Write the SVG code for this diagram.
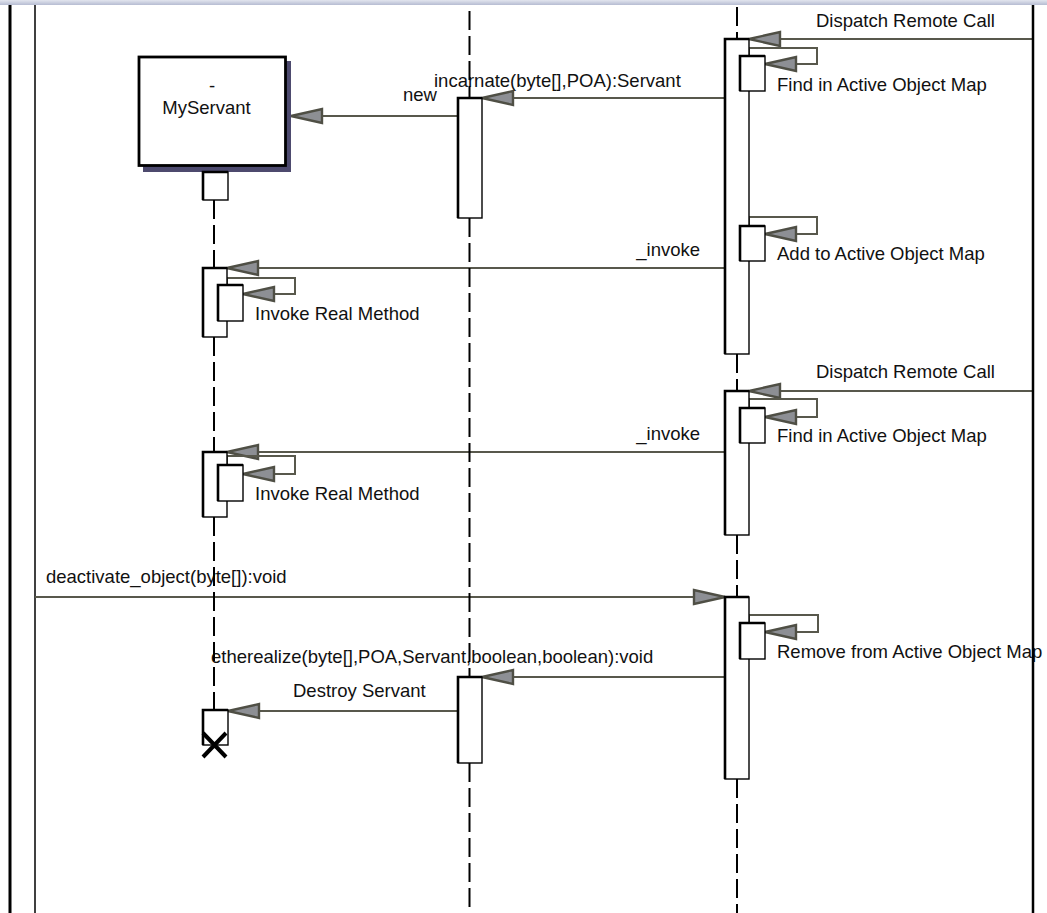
<svg xmlns="http://www.w3.org/2000/svg" xmlns:xlink="http://www.w3.org/1999/xlink" width="1047" height="913" viewBox="0 0 1047 913">
<style>
  text { font-family: "Liberation Sans", Arial, sans-serif; font-size: 18.5px; fill: #111; }
  .frameThick { stroke: #000; stroke-width: 3; }
  .frameThin { stroke: #000; stroke-width: 1.5; }
  .life { stroke: #000; stroke-width: 2; stroke-dasharray: 19 6; fill: none; }
  .act { fill: #fff; stroke: #000; stroke-width: 1.4; }
  .actE { fill: none; stroke: #000; stroke-width: 2.6; }
  .msg { fill: none; stroke: #58584c; stroke-width: 2; }
  .ah { fill: #8d8f94; stroke: #4f4f45; stroke-width: 2.4; stroke-linejoin: miter; }
  .box { fill: #fff; stroke: #000; stroke-width: 2.8; }
  .shadow { fill: #4d4a6e; }
  .cross { stroke: #000; stroke-width: 4; }
</style>
<defs>
  <linearGradient id="strip" x1="0" y1="0" x2="0" y2="1">
    <stop offset="0" stop-color="#e2e5ee"/>
    <stop offset="1" stop-color="#b6bcd2"/>
  </linearGradient>
  <path id="ahL" class="ah" d="M0,0 L31,-7 L31,7 Z"/>
  <path id="ahR" class="ah" d="M0,0 L-31,-7 L-31,7 Z"/>
</defs>
<rect x="0" y="0" width="1047" height="913" fill="#fff"/>
<rect x="0" y="0" width="1047" height="5" fill="url(#strip)"/>

<g id="frame">
  <line class="frameThick" x1="10" y1="5" x2="10" y2="913"/>
  <line class="frameThin" x1="35" y1="5" x2="35" y2="913"/>
</g>

<g id="connectors">
  <line class="msg" x1="1033" y1="39" x2="780" y2="39"/>
  <use xlink:href="#ahL" x="749" y="39"/>
  <text x="816" y="27">Dispatch Remote Call</text>

  <path class="msg" d="M749,56 V48 H817 V64 H795"/>
  <use xlink:href="#ahL" x="765" y="64"/>
  <text x="777" y="91">Find in Active Object Map</text>

  <line class="msg" x1="725" y1="98" x2="513" y2="98"/>
  <use xlink:href="#ahL" x="482" y="98"/>
  <text x="434" y="87">incarnate(byte[],POA):Servant</text>

  <line class="msg" x1="458" y1="116" x2="322" y2="116"/>
  <use xlink:href="#ahL" x="291" y="116"/>
  <text x="403" y="101">new</text>

  <path class="msg" d="M749,226 V217 H817 V234 H795"/>
  <use xlink:href="#ahL" x="765" y="234"/>
  <text x="777" y="260">Add to Active Object Map</text>

  <line class="msg" x1="725" y1="268" x2="258" y2="268"/>
  <use xlink:href="#ahL" x="227" y="268"/>
  <text x="700" y="256" text-anchor="end">_invoke</text>

  <path class="msg" d="M227,285 V278 H295 V294 H273"/>
  <use xlink:href="#ahL" x="243" y="294"/>
  <text x="255" y="320">Invoke Real Method</text>

  <line class="msg" x1="1033" y1="391" x2="780" y2="391"/>
  <use xlink:href="#ahL" x="749" y="391"/>
  <text x="816" y="378">Dispatch Remote Call</text>

  <path class="msg" d="M749,408 V399 H817 V417 H795"/>
  <use xlink:href="#ahL" x="765" y="417"/>
  <text x="777" y="442">Find in Active Object Map</text>

  <line class="msg" x1="725" y1="452" x2="258" y2="452"/>
  <use xlink:href="#ahL" x="227" y="452"/>
  <text x="700" y="440" text-anchor="end">_invoke</text>

  <path class="msg" d="M227,465 V456 H295 V474 H273"/>
  <use xlink:href="#ahL" x="243" y="474"/>
  <text x="255" y="500">Invoke Real Method</text>

  <line class="msg" x1="35" y1="597" x2="694" y2="597"/>
  <use xlink:href="#ahR" x="725" y="597"/>
  <text x="46" y="583">deactivate_object(byte[]):void</text>

  <path class="msg" d="M749,623 V615 H818 V632 H795"/>
  <use xlink:href="#ahL" x="765" y="632"/>
  <text x="777" y="658">Remove from Active Object Map</text>

  <line class="msg" x1="725" y1="677" x2="513" y2="677"/>
  <use xlink:href="#ahL" x="482" y="677"/>
  <text x="211" y="663">etherealize(byte[],POA,Servant,boolean,boolean):void</text>

  <line class="msg" x1="458" y1="711" x2="259" y2="711"/>
  <use xlink:href="#ahL" x="228" y="711"/>
  <text x="293" y="697">Destroy Servant</text>
</g>

<g id="myservant">
  <rect class="shadow" x="143" y="61" width="148" height="111"/>
  <rect class="box" x="139" y="57" width="146.5" height="108.5"/>
  <text x="212" y="92" text-anchor="middle">-</text>
  <text x="206.5" y="114" text-anchor="middle">MyServant</text>
  <path class="life" d="M214,200 V268 M214,337 V452 M214,517 V710"/>
  <rect class="act" x="203" y="172" width="25" height="28"/><path class="actE" d="M203,200 V172 H228"/>
  <rect class="act" x="203" y="268" width="24" height="69"/><path class="actE" d="M203,337 V268 H227"/>
  <rect class="act" x="218" y="285" width="25" height="36"/><path class="actE" d="M218,321 V285 H243"/>
  <rect class="act" x="203" y="452" width="24" height="65"/><path class="actE" d="M203,517 V452 H227"/>
  <rect class="act" x="218" y="465" width="25" height="36"/><path class="actE" d="M218,501 V465 H243"/>
  <rect class="act" x="203" y="710" width="25" height="35"/><path class="actE" d="M203,745 V710 H228"/>
  <path class="cross" d="M203,733 L226,757 M226,733 L203,757"/>
</g>

<g id="activator">
  <path class="life" d="M469.5,11 V98 M469.5,218 V677 M469.5,763 V913"/>
  <rect class="act" x="458" y="98" width="24" height="120"/><path class="actE" d="M458,218 V98 H482"/>
  <rect class="act" x="458" y="677" width="24" height="86"/><path class="actE" d="M458,763 V677 H482"/>
</g>

<g id="poa">
  <path class="life" d="M737,7 V39 M737,354 V391 M737,535 V597 M737,779 V913"/>
  <rect class="act" x="725" y="39" width="24" height="315"/><path class="actE" d="M725,354 V39 H749"/>
  <rect class="act" x="740" y="56" width="25" height="35"/><path class="actE" d="M740,91 V56 H765"/>
  <rect class="act" x="740" y="226" width="25" height="35"/><path class="actE" d="M740,261 V226 H765"/>
  <rect class="act" x="725" y="391" width="24" height="144"/><path class="actE" d="M725,535 V391 H749"/>
  <rect class="act" x="740" y="408" width="25" height="35"/><path class="actE" d="M740,443 V408 H765"/>
  <rect class="act" x="725" y="597" width="24" height="182"/><path class="actE" d="M725,779 V597 H749"/>
  <rect class="act" x="740" y="623" width="25" height="36"/><path class="actE" d="M740,659 V623 H765"/>
</g>

<g id="frame-right">
  <line class="frameThick" x1="1033" y1="5" x2="1033" y2="913" style="stroke-width:2.5"/>
</g>
</svg>
